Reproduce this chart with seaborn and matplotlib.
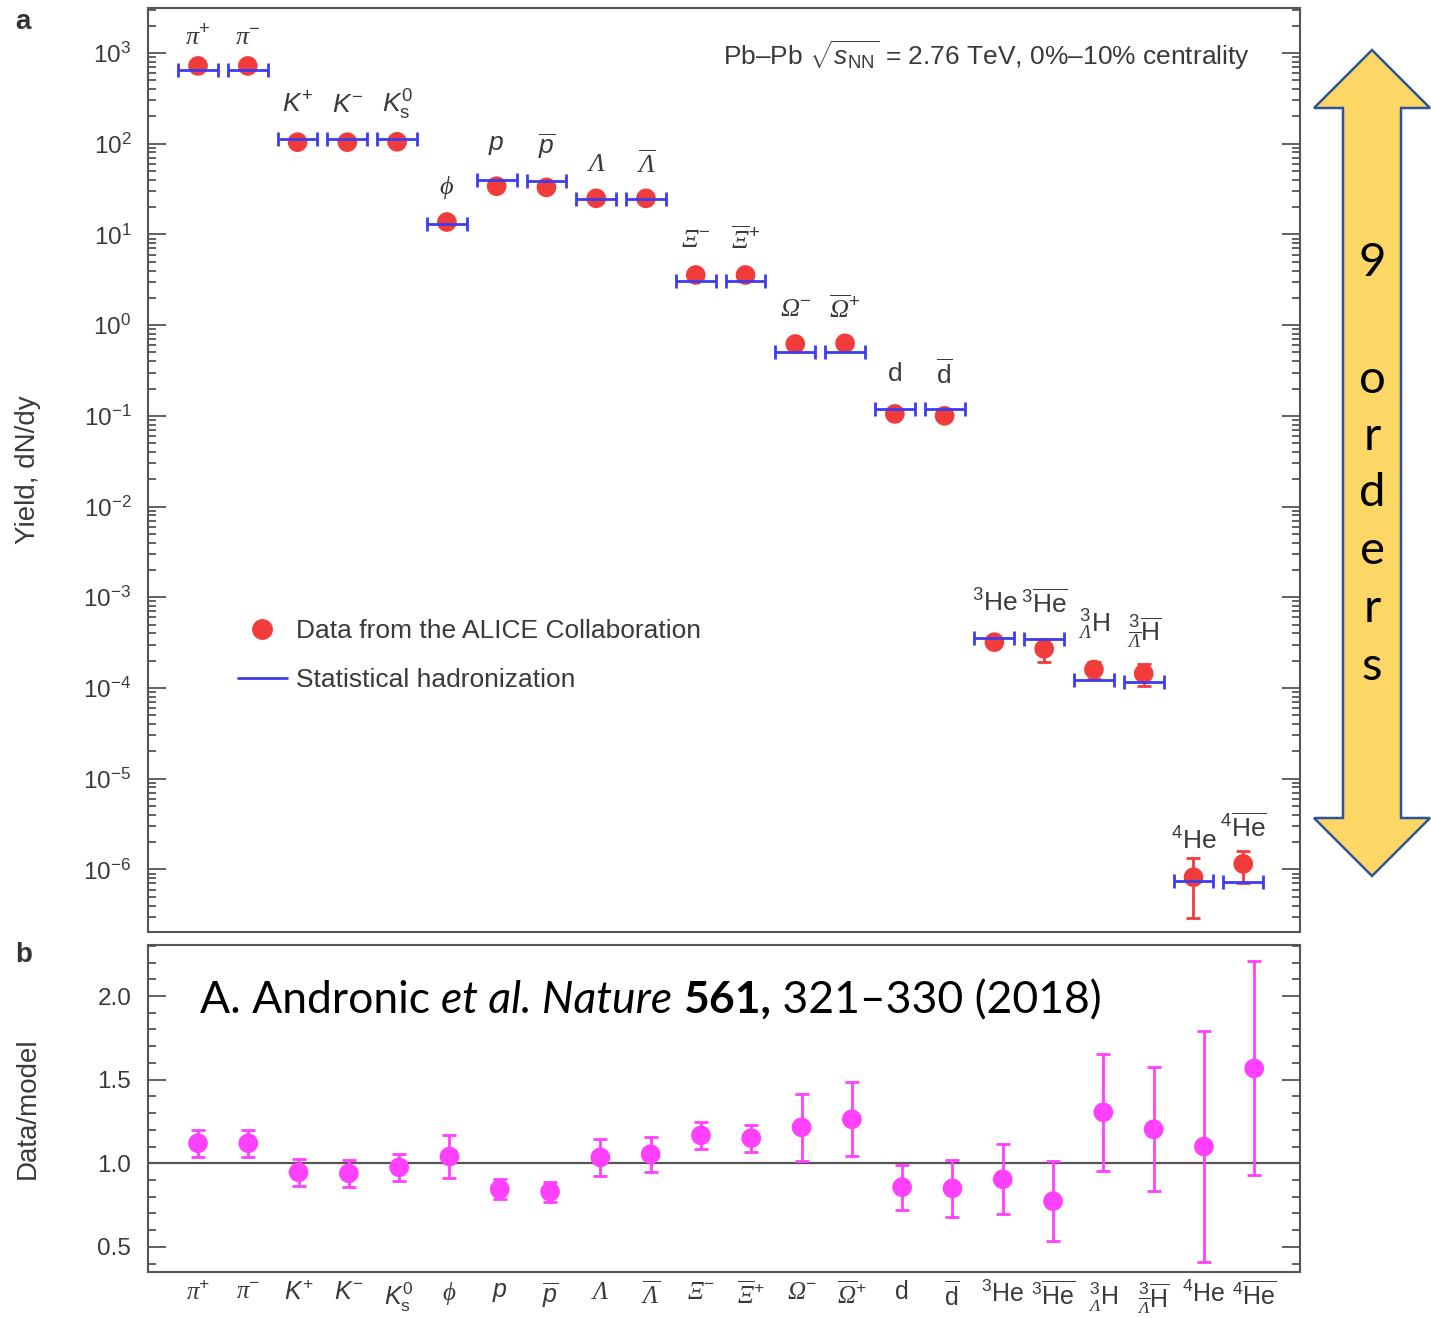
import matplotlib
matplotlib.use('Agg')
import matplotlib.pyplot as plt
import matplotlib.ticker as mticker
from matplotlib.lines import Line2D
from matplotlib.patches import Polygon
import numpy as np
import seaborn as sns

# particle species (tick labels / point labels)
particles = [r'$\mathcal{\pi}^{+}$', r'$\mathcal{\pi}^{-}$', r'$K^{+}$', r'$K^{-}$',
             r'$K^{0}_{\mathrm{s}}$', r'$\mathcal{\phi}$', r'$p$', r'$\overline{p}$',
             r'$\mathcal{\Lambda}$', r'$\overline{\mathcal{\Lambda}}$',
             r'$\mathcal{\Xi}^{-}$', r'$\overline{\mathcal{\Xi}}^{+}$',
             r'$\mathcal{\Omega}^{-}$', r'$\overline{\mathcal{\Omega}}^{+}$',
             'd', r'$\overline{\mathrm{d}}$', r'${}^{3}\mathrm{He}$', r'${}^{3}\overline{\mathrm{He}}$',
             r'${}^{3}_{\mathcal{\Lambda}}\mathrm{H}$',
             r'${}^{3}_{\overline{\mathcal{\Lambda}}}\overline{\mathrm{H}}$',
             r'${}^{4}\mathrm{He}$', r'${}^{4}\overline{\mathrm{He}}$']

# panel a: measured yields and statistical hadronization model
yield_data = [720, 720, 104, 104, 105, 13.7, 34, 33, 25, 25, 3.57, 3.57, 0.62, 0.63,
              0.105, 0.10, 3.2e-4, 2.7e-4, 1.6e-4, 1.44e-4, 8.2e-7, 1.15e-6]
yield_err = [0, 0, 0, 0, 0, 0, 0, 0, 0, 0, 0, 0, 0, 0,
             0, 0, 0.25e-4, 0.75e-4, 0.35e-4, 0.4e-4, 5.3e-7, 4.5e-7]
yield_model = [650, 650, 112, 112, 112, 13, 40, 39, 24.5, 24.5, 3.06, 3.06, 0.50, 0.50,
               0.119, 0.119, 3.6e-4, 3.5e-4, 1.23e-4, 1.17e-4, 7.4e-7, 7.3e-7]

# panel b: data/model ratio
ratio = [1.12, 1.12, 0.946, 0.94, 0.976, 1.04, 0.845, 0.83, 1.035, 1.054, 1.167, 1.15,
         1.215, 1.263, 0.857, 0.85, 0.904, 0.773, 1.305, 1.203, 1.10, 1.567]
ratio_err = [0.08, 0.08, 0.08, 0.08, 0.08, 0.13, 0.06, 0.06, 0.11, 0.105, 0.08, 0.08,
             0.2, 0.22, 0.135, 0.17, 0.21, 0.24, 0.35, 0.37, 0.69, 0.64]

RED = '#f23c3c'
BLUE = '#3c3cf0'
MAGENTA = '#ff40ff'
GREY = '#555555'
TXT = '#3a3a3a'

sns.set_theme(style='ticks')
plt.rcParams['font.family'] = ['Liberation Sans', 'DejaVu Sans']
plt.rcParams['mathtext.fontset'] = 'custom'
plt.rcParams['mathtext.rm'] = 'Liberation Sans'
plt.rcParams['mathtext.it'] = 'Liberation Sans:italic'
plt.rcParams['mathtext.bf'] = 'Liberation Sans:bold'
plt.rcParams['mathtext.sf'] = 'Liberation Sans'
plt.rcParams['mathtext.cal'] = 'Liberation Serif:italic'

W, H = 1431, 1318
fig = plt.figure(figsize=(W / 100, H / 100), dpi=100)
ax_a = fig.add_axes([148 / W, 1 - 932 / H, 1152 / W, 924 / H])
ax_b = fig.add_axes([148 / W, 1 - 1272 / H, 1152 / W, 327 / H])

xpos = np.arange(len(particles))

# ---- panel a
ax_a.errorbar(xpos, yield_model, xerr=0.4, fmt='none', ecolor=BLUE, elinewidth=2,
              capsize=5, capthick=2, zorder=4)
ax_a.errorbar(xpos, yield_data, yerr=yield_err, fmt='none', ecolor=RED, elinewidth=2,
              capsize=5, capthick=2, zorder=2)
sns.scatterplot(x=xpos, y=yield_data, ax=ax_a, color=RED, s=200, edgecolor='none',
                legend=False, zorder=3)
ax_a.set_yscale('log')
ax_a.set_ylim(10 ** -6.69, 10 ** 3.496)
ax_a.set_xlim(-1.005, 22.14)
ax_a.yaxis.set_major_locator(mticker.LogLocator(base=10, numticks=20))
ax_a.yaxis.set_minor_locator(mticker.LogLocator(base=10, subs=np.arange(2, 10), numticks=20))
ax_a.yaxis.set_minor_formatter(mticker.NullFormatter())
ax_a.set_xticks([])
ax_a.set_ylabel('Yield, dN/dy', fontsize=20, color=TXT)
ax_a.yaxis.set_label_coords(-0.093, 0.5)

label_off = [20, 20] + [25] * 16 + [32, 30] + [26, 26]
for x, yd, ym, lab, off in zip(xpos, yield_data, yield_model, particles, label_off):
    ax_a.annotate(lab, (x, max(yd, ym)), xytext=(0, off), textcoords='offset points',
                  ha='center', va='center', fontsize=19, color=TXT)

ax_a.text(0.9566, 0.949, r'Pb–Pb $\sqrt{s_{\mathrm{NN}}}$ = 2.76 TeV, 0%–10% centrality',
          transform=ax_a.transAxes, ha='right', va='center', fontsize=19, color=TXT)

handles = [Line2D([], [], marker='o', color=RED, ls='none', markersize=14),
           Line2D([], [], color=BLUE, lw=2)]
leg = ax_a.legend(handles, ['Data from the ALICE Collaboration', 'Statistical hadronization'],
                  loc='upper left', bbox_to_anchor=(0.078, 0.339), frameon=False,
                  fontsize=19, handlelength=1.85, handletextpad=0.35, labelspacing=0.97,
                  borderpad=0, borderaxespad=0)
for t in leg.get_texts():
    t.set_color(TXT)

# ---- panel b
ax_b.axhline(1.0, color=GREY, lw=1.6, zorder=1)
ax_b.errorbar(xpos, ratio, yerr=ratio_err, fmt='none', ecolor=MAGENTA, elinewidth=2,
              capsize=5, capthick=2, zorder=2)
sns.scatterplot(x=xpos, y=ratio, ax=ax_b, color=MAGENTA, s=200, edgecolor='none',
                legend=False, zorder=3)
ax_b.set_xlim(-0.994, 21.91)
ax_b.set_ylim(0.35, 2.305)
ax_b.yaxis.set_major_locator(mticker.MultipleLocator(0.5))
ax_b.yaxis.set_minor_locator(mticker.MultipleLocator(0.1))
ax_b.yaxis.set_major_formatter(mticker.FormatStrFormatter('%.1f'))
ax_b.set_xticks(xpos)
ax_b.set_xticklabels(particles)
ax_b.set_ylabel('Data/model', fontsize=20, color=TXT)
ax_b.yaxis.set_label_coords(-0.093, 0.5)

for ax in (ax_a, ax_b):
    for sp in ax.spines.values():
        sp.set_color(GREY)
        sp.set_linewidth(1.5)
    ax.tick_params(axis='y', which='both', direction='in', left=True, right=True,
                   color=GREY, width=1.3, labelsize=17.5, labelcolor=TXT, pad=12)
    ax.tick_params(axis='y', which='major', length=13)
    ax.tick_params(axis='y', which='minor', length=6)
ax_b.tick_params(axis='x', length=0, labelsize=18, labelcolor=TXT, pad=6)

# panel letters
fig.text(15 / W, 1 - 22 / H, 'a', fontsize=20, fontweight='bold', color='#333333', va='center')
fig.text(15 / W, 1 - 955 / H, 'b', fontsize=20, fontweight='bold', color='#333333', va='center')

# citation, drawn piece by piece
renderer = fig.canvas.get_renderer()
cx = 200 / W
cy = 1 - 1013 / H
runs = [('A. Andronic ', {}), ('et al. Nature ', {'style': 'italic'}),
        ('561,', {'weight': 'bold'}), (' 321–330 (2018)', {})]
for txt, kw in runs:
    t = fig.text(cx, cy, txt, fontsize=32, family=['Lato', 'DejaVu Sans'], color='black',
                 va='baseline', ha='left', **kw)
    cx += t.get_window_extent(renderer).width / fig.bbox.width

# "9 orders" double arrow at the right
pts = [(1372, 50), (1430, 108), (1401, 108), (1401, 818), (1430, 818), (1372, 876),
       (1314, 818), (1343, 818), (1343, 108), (1314, 108)]
arrow = Polygon([(px / W, 1 - py / H) for px, py in pts], closed=True,
                facecolor='#fdd766', edgecolor='#2f5597', lw=1.8, transform=fig.transFigure)
fig.add_artist(arrow)
for ch, py in zip('9orders', [263, 380, 437, 493, 551, 609, 667]):
    fig.text(1372 / W, 1 - py / H, ch, fontsize=34, family=['Lato', 'DejaVu Sans'],
             color='black', ha='center', va='center')

fig.savefig('out.png', dpi=100)
